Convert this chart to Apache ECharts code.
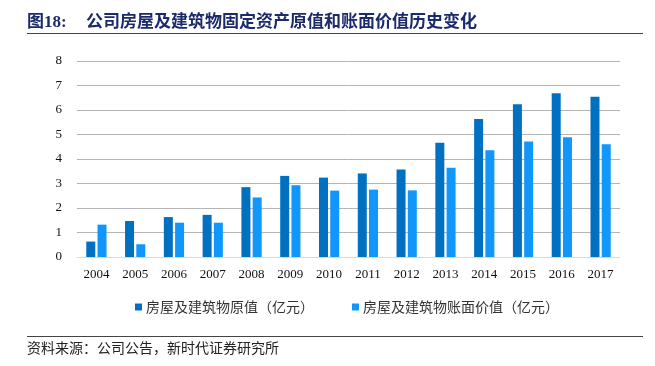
<!DOCTYPE html>
<html>
<head>
<meta charset="utf-8">
<script src="https://cdn.jsdelivr.net/npm/echarts@6/dist/echarts.min.js"></script>
<style>
  html, body { margin: 0; padding: 0; background: #fff; }
  #main { width: 655px; height: 366px; }
</style>
</head>
<body>
<div id="main"></div>
<script>
var years = ['2004','2005','2006','2007','2008','2009','2010','2011','2012','2013','2014','2015','2016','2017'];
var origValue = [0.63, 1.47, 1.63, 1.72, 2.85, 3.31, 3.24, 3.41, 3.57, 4.66, 5.63, 6.23, 6.68, 6.54];
var bookValue = [1.32, 0.52, 1.40, 1.40, 2.43, 2.93, 2.71, 2.75, 2.72, 3.64, 4.36, 4.71, 4.89, 4.60];
var seriesNames = ['房屋及建筑物原值（亿元）', '房屋及建筑物账面价值（亿元）'];

var serif = '"Liberation Serif", "Noto Sans CJK SC", serif';
var cjk = '"Noto Sans CJK SC", sans-serif';

var myChart = echarts.init(document.getElementById('main'));
var option = {
    animation: false,
    backgroundColor: '#fff',
    grid: { left: 77, right: 35, top: 61, bottom: 109 },
    legend: {
        data: seriesNames,
        top: 295,
        left: 130,
        itemWidth: 7,
        itemHeight: 7,
        itemGap: 38,
        icon: 'rect',
        textStyle: { fontFamily: cjk, fontSize: 14, color: '#333', padding: [0, 0, 0, -1] }
    },
    xAxis: {
        type: 'category',
        data: years,
        axisLine: { lineStyle: { color: '#d9d9d9', width: 1 } },
        axisTick: { show: false },
        axisLabel: { fontFamily: serif, fontSize: 13, color: '#111', margin: 11 }
    },
    yAxis: {
        type: 'value',
        min: 0,
        max: 8,
        interval: 1,
        axisLine: { show: false },
        axisTick: { show: false },
        axisLabel: { fontFamily: serif, fontSize: 13, color: '#111', margin: 15 },
        splitLine: { lineStyle: { color: '#b4b4b4', width: 1 } }
    },
    series: [
        {
            name: seriesNames[0],
            type: 'bar',
            data: origValue,
            barWidth: 9,
            barGap: '25%',
            itemStyle: { color: '#0070c0' }
        },
        {
            name: seriesNames[1],
            type: 'bar',
            data: bookValue,
            barWidth: 9,
            itemStyle: { color: '#1196fb' }
        }
    ],
    graphic: [
        {
            type: 'text', left: 27, top: 14,
            style: { text: '图18:', font: 'bold 17px ' + serif, fill: '#1b2a6b' }
        },
        {
            type: 'text', left: 86, top: 12,
            style: { text: '公司房屋及建筑物固定资产原值和账面价值历史变化', font: 'bold 17px ' + cjk, fill: '#1b2a6b' }
        },
        {
            type: 'rect', left: 27, top: 33,
            shape: { width: 616, height: 1 },
            style: { fill: '#444' }
        },
        {
            type: 'rect', left: 27, top: 336,
            shape: { width: 616, height: 1 },
            style: { fill: '#444' }
        },
        {
            type: 'text', left: 27, top: 341,
            style: { text: '资料来源：公司公告，新时代证券研究所', font: '14px ' + cjk, fill: '#222' }
        }
    ]
};
myChart.setOption(option);
</script>
</body>
</html>
